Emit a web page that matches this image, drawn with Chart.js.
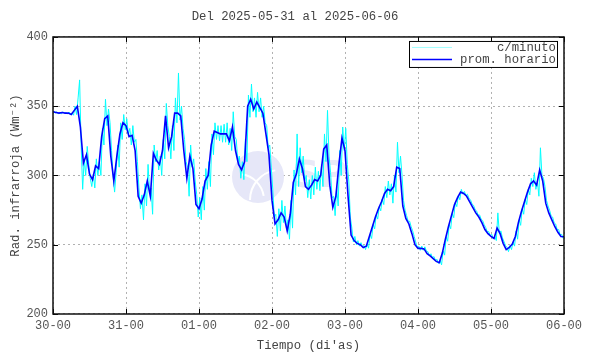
<!DOCTYPE html>
<html><head><meta charset="utf-8">
<script src="https://cdn.jsdelivr.net/npm/chart.js@4/dist/chart.umd.min.js"></script>
<style>html,body{margin:0;padding:0;background:#fff;} canvas{display:block;}</style>
</head><body>
<canvas id="c" width="590" height="354"></canvas>
<script>
const titleText = 'Del 2025-05-31 al 2025-06-06';
const xTitle = "Tiempo (di'as)";
const yTitle = 'Rad. infrarroja (Wm\u207B\u00B2)';
const dayLabels = ['30-00','31-00','01-00','02-00','03-00','04-00','05-00','06-00'];
const yTickValues = [200,250,300,350,400];
const seriesNames = ['c/minuto','prom. horario'];

// hourly mean, one value per hour from 30-00 to 06-00
const hourlyMean = [
346,345.5,345,345.5,345,345,344,347,350,335,
309,315,301,297,307,305,328,341,343,314,
296,314,330,338,336,328,329,318,285,280,
286,296,285,316,311,308,318,343,320,328,
345,345,343,318,298,314,305,279,276,283,
296,300,322,332,331,330,330,330,325,335,
318,308,304,310,350,355,348,353,349,345,
330,315,282,265,268,273,270,260,272,295,
301,312,305,292,290,293,297,296,300,319,
322,293,277,285,308,327,318,285,257,253,
251,250,248,249,256,263,270,276,281,287,
290,289,292,306,305,278,269,265,258,250,
247.4,247.4,247,243.6,242,240,238,237,244,254,
263,271,279,284,288,287,285,281,277,273,
270,266,261,258,256,254.5,262,258,251,246.5,
248,250.5,256,266,274,281,288,294,296,293,
304,296,280,273,268,263,259,256,255.8
];

// per-minute readings, sampled twice per hour
const minuteData = [
346.5,345, 346,344.5, 345.5,344.5, 346,344.8, 345.5,344.5, 345.8,344.5, 345,343.5, 350,344, 356,369, 322,290,
312,300, 321,308, 298,292, 301,291, 312,300, 310,300, 334,322, 355,336, 348,338, 318,300,
288,302, 322,306, 338,326, 344,333, 341,330, 334,322, 336,324, 326,310, 291,276, 286,268,
294,278, 308,288, 291,272, 322,310, 318,304, 314,300, 326,312, 352,336, 328,312, 336,318,
356,338, 374,340, 350,334, 326,310, 306,285, 322,306, 312,296, 286,270, 284,268, 292,275,
305,290, 310,292, 330,315, 338,326, 336,325, 336,324, 337,324, 338,322, 334,318, 346,328,
326,310, 314,298, 310,297, 326,310, 358,342, 366,346, 356,342, 360,346, 356,342, 350,338,
336,320, 322,306, 290,270, 272,256, 276,260, 282,266, 278,262, 268,254, 282,262, 304,286,
330,292, 320,302, 314,296, 300,284, 297,283, 300,286, 306,290, 303,289, 308,292, 330,310,
347,314, 302,284, 285,271, 292,278, 318,300, 335,318, 334,308, 296,270, 262,252, 256,250,
253,249, 251.5,248.5, 249.5,246.5, 250.5,247.5, 257.5,254.5, 264.5,261.5, 271.5,268.5, 277.5,274.5, 283,279, 292,284,
296,286, 294,280, 300,288, 324,302, 314,300, 282,275, 271,267, 267,263, 260,256, 252,248,
249,246, 249,246, 248.5,245.5, 245,242, 243.5,240.5, 241.5,238.5, 239.5,236.5, 238.5,235.5, 245.5,242.5, 255.5,252.5,
264.5,261.5, 272.5,269.5, 280.5,277.5, 285.5,282.5, 290,286.5, 288.5,285.5, 286.5,283.5, 282.5,279.5, 278.5,275.5, 274.5,271.5,
271.5,268.5, 267.5,264.5, 262.5,259.5, 259.5,256.5, 257.5,254.5, 256,253, 273,258, 260,255, 252.5,249.5, 248,245,
249.5,246.5, 252,249, 260,254, 268,264, 276,272, 283,279, 290,286, 298,292, 302,290, 296,285,
320,300, 298,292, 282,278, 275,271, 270,266, 265,261, 261,257, 257.5,254.5
];

const F = "'Liberation Mono','DejaVu Sans Mono',monospace";

const decor = {
  id: 'decor',
  beforeDatasetsDraw(chart) {
    const c = chart.ctx;
    c.save();
    c.fillStyle = '#e6e7f8';
    c.beginPath(); c.arc(258, 177, 26, 0, Math.PI * 2); c.fill();
    c.strokeStyle = '#ffffff'; c.lineWidth = 2;
    c.beginPath(); c.arc(280, 200, 30, Math.PI * 1.0, Math.PI * 1.45); c.stroke();
    c.beginPath(); c.arc(238, 200, 26, Math.PI * 1.55, Math.PI * 1.95); c.stroke();
    c.fillStyle = '#e9e9f7';
    c.font = "bold 38px 'DejaVu Sans', sans-serif";
    c.textBaseline = 'middle';
    c.fillText('SP', 292, 177);
    c.restore();
  },
  afterDatasetsDraw(chart) {
    const c = chart.ctx;
    const a = chart.chartArea;
    const xs = chart.scales.x, ys = chart.scales.y;
    c.save();
    c.strokeStyle = '#000'; c.lineWidth = 1;
    xs.ticks.forEach(t => {
      const px = Math.round(xs.getPixelForValue(t.value)) + 0.5;
      c.beginPath(); c.moveTo(px, a.bottom); c.lineTo(px, a.bottom - 5); c.stroke();
      c.beginPath(); c.moveTo(px, a.top); c.lineTo(px, a.top + 5); c.stroke();
    });
    ys.ticks.forEach(t => {
      const py = Math.round(ys.getPixelForValue(t.value)) + 0.5;
      c.beginPath(); c.moveTo(a.left, py); c.lineTo(a.left + 5, py); c.stroke();
      c.beginPath(); c.moveTo(a.right, py); c.lineTo(a.right - 5, py); c.stroke();
    });
    // legend box
    const bx = a.right - 155, by = a.top + 4, bw = 148, bh = 26;
    c.fillStyle = '#fff';
    c.fillRect(bx, by, bw, bh);
    c.strokeStyle = '#000'; c.lineWidth = 1;
    c.strokeRect(bx + 0.5, by + 0.5, bw, bh);
    const cols = ['#a0ffff', '#0000ff'];
    const widths = [1, 1.5];
    c.font = '12.3px ' + F;
    c.textAlign = 'right'; c.textBaseline = 'middle';
    seriesNames.forEach((n, i) => {
      const ly = by + 6.5 + i * 12;
      c.strokeStyle = cols[i]; c.lineWidth = widths[i];
      c.beginPath(); c.moveTo(bx + 3, ly); c.lineTo(bx + 43, ly); c.stroke();
      c.fillStyle = '#444';
      c.fillText(n, bx + bw - 1, ly);
    });
    // frame
    c.strokeStyle = '#111'; c.lineWidth = 1.5;
    c.strokeRect(a.left, a.top, a.right - a.left, a.bottom - a.top);
    c.restore();
  }
};

new Chart(document.getElementById('c'), {
  type: 'line',
  data: {
    datasets: [
      { label: seriesNames[0], data: minuteData.map((v, i) => ({ x: i / 2 + 0.25, y: v })),
        borderColor: '#00ffff', borderWidth: 1, pointRadius: 0, tension: 0, order: 1 },
      { label: seriesNames[1], data: hourlyMean.map((v, i) => ({ x: i, y: v })),
        borderColor: '#0000ff', borderWidth: 1.6, pointRadius: 0, tension: 0, order: 0 }
    ]
  },
  options: {
    responsive: false, animation: false, devicePixelRatio: 1,
    layout: { padding: { left: 0, right: 0, top: 0, bottom: 0 } },
    plugins: {
      legend: { display: false }, tooltip: { enabled: false },
      title: { display: true, text: titleText, color: '#444',
        font: { family: F, size: 12.3, weight: 'normal' }, padding: { top: 9, bottom: 13.2 } }
    },
    scales: {
      x: {
        type: 'linear', min: 0, max: 168,
        afterFit: s => { s.height = 40; },
        ticks: { stepSize: 24, autoSkip: false, maxRotation: 0, padding: 5, color: '#555',
          font: { family: F, size: 12 }, callback: v => dayLabels[Math.round(v / 24)] },
        grid: { color: '#b0b0b0', lineWidth: 1, drawTicks: false },
        border: { display: false, dash: [2, 3] },
        title: { display: true, text: xTitle, color: '#444', font: { family: F, size: 12.3 }, padding: { top: 0, bottom: 1 } }
      },
      y: {
        min: 200, max: 400,
        afterFit: s => { s.width = 53; },
        afterBuildTicks: s => { s.ticks = yTickValues.map(v => ({ value: v })); },
        ticks: { padding: 5, color: '#555', font: { family: F, size: 12 } },
        grid: { color: '#b0b0b0', lineWidth: 1, drawTicks: false },
        border: { display: false, dash: [2, 3] },
        title: { display: true, text: yTitle, color: '#444', font: { family: F, size: 12.3 }, padding: { top: 8, bottom: 0 } }
      },
      yRight: {
        position: 'right', min: 200, max: 400,
        afterFit: s => { s.width = 26; },
        ticks: { display: false }, grid: { display: false }, border: { display: false }
      }
    }
  },
  plugins: [decor]
});
</script>
</body></html>
